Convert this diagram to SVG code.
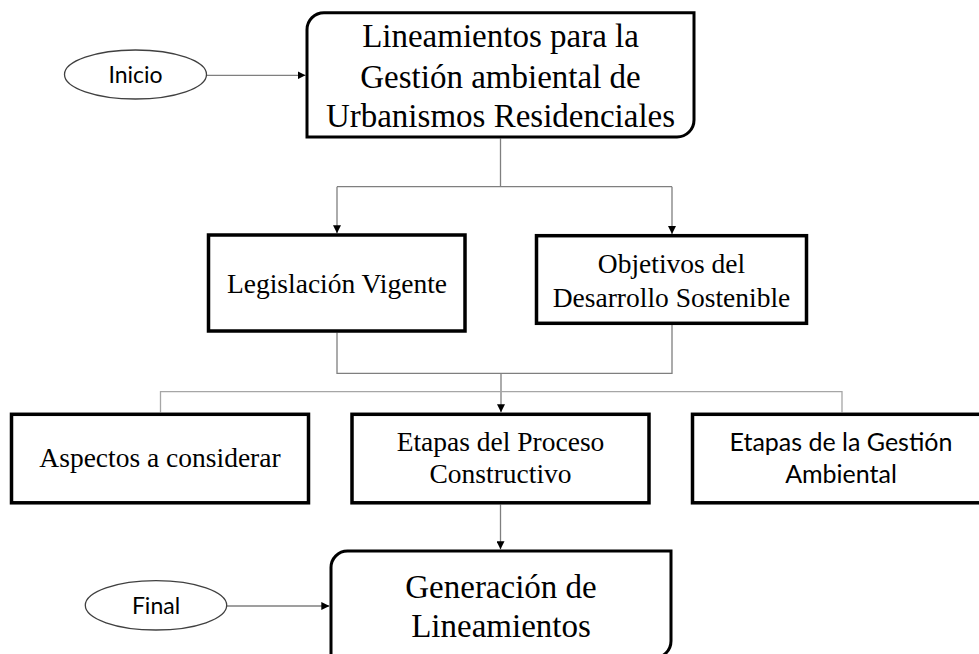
<svg xmlns="http://www.w3.org/2000/svg" width="979" height="654" viewBox="0 0 979 654">
<style>
.box{fill:#fff;stroke:#000;stroke-width:3.5}
.rbox{fill:#fff;stroke:#000;stroke-width:3}
.oval{fill:#fff;stroke:#404040;stroke-width:1.3}
.ln{fill:none;stroke:#7f7f7f;stroke-width:1.3}
.ln2{fill:none;stroke:#a6a6a6;stroke-width:1.3}
.serif{font-family:"Liberation Serif","Times New Roman",serif;fill:#000;text-anchor:middle}
.sans{font-family:Lato,"Liberation Sans",sans-serif;fill:#000;text-anchor:middle}
.big{font-size:33px}
.mid{font-size:27.5px}
</style>
<defs>
<marker id="ah" markerUnits="userSpaceOnUse" markerWidth="8" markerHeight="8" refX="8" refY="4" orient="auto">
<path d="M0,0 L8,4 L0,8 z" fill="#000"/>
</marker>
</defs>
<rect width="979" height="654" fill="#fff"/>

<g id="connectors">
<path class="ln" d="M206.5 75.3 H305.5" marker-end="url(#ah)"/>
<path class="ln" d="M500.5 138.5 V186.7"/>
<path class="ln" d="M337 186.7 H672"/>
<path class="ln" d="M337 186.7 V233.3" marker-end="url(#ah)"/>
<path class="ln" d="M672 186.7 V234" marker-end="url(#ah)"/>
<path class="ln" d="M337 332.5 V373.3 H672 V325"/>
<path class="ln" d="M501 373.3 V412.3" marker-end="url(#ah)"/>
<path class="ln2" d="M160.5 412.3 V391.7 H842 V412.3"/>
<path class="ln" d="M500.5 504.5 V549.3" marker-end="url(#ah)"/>
<path class="ln" d="M226.7 606 H329.3" marker-end="url(#ah)"/>
</g>

<g id="inicio">
<ellipse class="oval" cx="135.5" cy="74.5" rx="71" ry="24.5"/>
<text class="sans" x="135.5" y="83.3" font-size="23">Inicio</text>
</g>

<g id="lineamientos">
<path class="rbox" d="M324 12.7 H694 V120 A17 17 0 0 1 677 137 H307 V29.7 A17 17 0 0 1 324 12.7 Z"/>
<text class="serif big" x="500.5" y="47.3">Lineamientos para la</text>
<text class="serif big" x="500.5" y="87.7">Gestión ambiental de</text>
<text class="serif big" x="500.5" y="126.7">Urbanismos Residenciales</text>
</g>

<g id="legislacion">
<rect class="box" x="208.5" y="235" width="256.5" height="96"/>
<text class="serif mid" x="337" y="292.7">Legislación Vigente</text>
</g>

<g id="objetivos">
<rect class="box" x="536.5" y="235.7" width="270" height="87.6"/>
<text class="serif mid" x="671.5" y="273.3">Objetivos del</text>
<text class="serif mid" x="671.5" y="306.7">Desarrollo Sostenible</text>
</g>

<g id="aspectos">
<rect class="box" x="11.5" y="414.3" width="297" height="88.5"/>
<text class="serif mid" x="160" y="466.7">Aspectos a considerar</text>
</g>

<g id="etapas-proceso">
<rect class="box" x="352" y="414.3" width="297" height="88.5"/>
<text class="serif mid" x="500.5" y="450.7">Etapas del Proceso</text>
<text class="serif mid" x="500.5" y="483.3">Constructivo</text>
</g>

<g id="etapas-gestion">
<rect class="box" x="692.5" y="414.3" width="297" height="88.5"/>
<text class="sans" x="841" y="451" font-size="25">Etapas de la Gestión</text>
<text class="sans" x="841" y="483" font-size="25">Ambiental</text>
</g>

<g id="generacion">
<path class="rbox" d="M347.5 551 H671 V641 A17 17 0 0 1 654 658 H331 V567.5 A16.5 16.5 0 0 1 347.5 551 Z"/>
<text class="serif big" x="501" y="598.3">Generación de</text>
<text class="serif big" x="501" y="636.7">Lineamientos</text>
</g>

<g id="final">
<ellipse class="oval" cx="156" cy="605.3" rx="70.7" ry="24.7"/>
<text class="sans" x="156" y="614.3" font-size="23">Final</text>
</g>
</svg>
